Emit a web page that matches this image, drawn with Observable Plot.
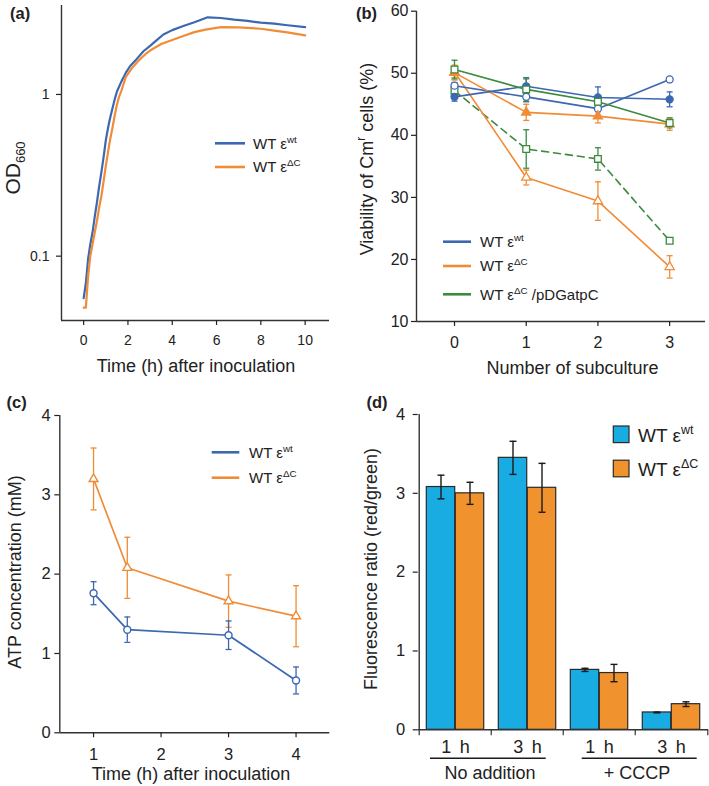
<!DOCTYPE html>
<html><head><meta charset="utf-8">
<script src="https://cdn.jsdelivr.net/npm/d3@7"></script>
<script src="https://cdn.jsdelivr.net/npm/@observablehq/plot@0.6"></script>
<style>
html,body{margin:0;padding:0;background:#fff;}
#fig{position:relative;width:709px;height:786px;overflow:hidden;background:#fff;}
#fig > svg{position:absolute;}
</style></head><body><div id="fig"></div>
<script>
// ---------- DATA ----------
// (a) growth curves, OD660 vs time (h)
const growthTimeWT = [0,0.1,0.2,0.3,0.4,0.5,0.6,0.7,0.8,0.9,1.0,1.1,1.2,1.3,1.4,1.5,1.7,1.9,2.1,2.4,2.7,3.0,3.3,3.6,4.0,4.5,5.0,5.6,6.2,6.8,7.4,8.0,8.6,9.2,10.0];
const growthODWT   = [0.055,0.068,0.096,0.118,0.14,0.175,0.215,0.27,0.33,0.41,0.52,0.62,0.72,0.82,0.93,1.04,1.2,1.36,1.5,1.66,1.85,2.0,2.17,2.35,2.5,2.65,2.8,3.0,2.97,2.9,2.85,2.78,2.74,2.68,2.61];
const growthTimeDC = [0,0.1,0.2,0.3,0.4,0.5,0.6,0.7,0.8,0.9,1.0,1.1,1.2,1.3,1.4,1.5,1.6,1.7,1.9,2.2,2.5,2.8,3.0,3.5,4.0,4.5,5.0,5.5,6.2,7.0,8.0,8.6,9.2,10.0];
const growthODDC   = [0.048,0.048,0.075,0.1,0.118,0.14,0.165,0.2,0.235,0.29,0.36,0.44,0.53,0.62,0.74,0.86,0.97,1.05,1.28,1.47,1.63,1.78,1.87,2.05,2.17,2.3,2.43,2.52,2.61,2.6,2.55,2.48,2.42,2.32];
const growthXTicks = [0,2,4,6,8,10];
const growthYTicks = [0.1,1];

// (b) viability of Cm^r cells (%) vs number of subculture
const subculture = [0,1,2,3];
const viabWTFilled   = [46.2,47.9,46.1,45.8];  const viabWTFilledErr   = [0.7,1.2,1.7,1.2];
const viabWTOpen     = [48.0,46.2,44.3,49.0];  const viabWTOpenErr     = [0.5,0.8,0.5,0];
const viabDCFilled   = [50.1,43.7,43.1,41.8];  const viabDCFilledErr   = [1.2,1.3,1.1,1.0];
const viabDCOpen     = [50.2,33.2,29.4,18.8];  const viabDCOpenErr     = [0.9,1.2,3.1,1.8];
const viabCompSolid  = [50.6,47.4,45.4,42.0];  const viabCompSolidErr  = [1.5,1.9,0.8,0.8];
const viabCompDashed = [47.2,37.8,36.2,23.0];  const viabCompDashedErr = [0.5,3.1,1.8,0.4];
const viabXTicks = [0,1,2,3];
const viabYTicks = [10,20,30,40,50,60];

// (c) ATP concentration (mM) vs time (h)
const atpTime  = [1,1.5,3,4];
const atpWT    = [1.76,1.30,1.23,0.66];  const atpWTErr = [0.145,0.16,0.18,0.17];
const atpDC    = [3.20,2.08,1.66,1.47];  const atpDCErr = [0.39,0.385,0.33,0.385];
const atpXTicks = [1,2,3,4];
const atpYTicks = [0,1,2,3,4];

// (d) fluorescence ratio (red/green)
const fluorTime      = ["1 h","3 h","1 h","3 h"];
const fluorCondition = ["No addition","No addition","+ CCCP","+ CCCP"];
const fluorWT    = [3.08,3.45,0.76,0.22];  const fluorWTErr = [0.15,0.21,0.02,0.005];
const fluorDC    = [3.00,3.07,0.72,0.325]; const fluorDCErr = [0.14,0.31,0.11,0.03];
const fluorYTicks = [0,1,2,3,4];

// ---------- STYLE ----------
const FONT = "'Liberation Sans', Arial, Helvetica, sans-serif";
const C = {blue:"#3c68b1", orange:"#f08c37", green:"#3b8a3e", barBlue:"#19ace3", barOrange:"#f0932f", ink:"#222", axis:"#333"};
const baseStyle = {fontFamily: FONT, color: C.ink, background: "transparent", overflow: "visible"};
const capSymbol = {draw(ctx, size) { const w = Math.sqrt(size / Math.PI); ctx.moveTo(-w, 0); ctx.lineTo(w, 0); }};
const plain = d => String(d);
const fig = document.getElementById("fig");
function place(svg, left, top) { svg.style.position = "absolute"; svg.style.left = left + "px"; svg.style.top = top + "px"; fig.appendChild(svg); }

// ---------- (a) ----------
{
  const rows = [
    ...growthTimeWT.map((t, i) => ({t, od: growthODWT[i], s: "wt"})),
    ...growthTimeDC.map((t, i) => ({t, od: growthODDC[i], s: "dc"}))
  ];
  const xDom = [-1, 11.1], yDom = [0.04, 3.55];
  const p = Plot.plot({
    width: 350, height: 390, marginLeft: 61, marginTop: 5, marginRight: 21, marginBottom: 70,
    style: baseStyle,
    x: {domain: xDom}, y: {type: "log", domain: yDom},
    color: {domain: ["wt","dc"], range: [C.blue, C.orange]},
    marks: [
      Plot.ruleX([xDom[0]], {stroke: C.axis, strokeWidth: 1.4}),
      Plot.ruleY([yDom[0]], {stroke: C.axis, strokeWidth: 1.4}),
      Plot.axisX({ticks: growthXTicks, tickSize: 5, tickPadding: 10, fontSize: 14, label: null, strokeWidth: 1.2, tickFormat: plain}),
      Plot.axisY({ticks: growthYTicks, tickSize: 5, tickPadding: 7, fontSize: 14, label: null, strokeWidth: 1.2, tickFormat: plain}),
      Plot.line(rows, {x: "t", y: "od", z: "s", stroke: "s", strokeWidth: 2.2})
    ]
  });
  place(p, 0, 0);
}

// ---------- (b) ----------
{
  const series = [
    {v: viabCompDashed, e: viabCompDashedErr, color: C.green, symbol: "square", fill: "white", dash: "7,5"},
    {v: viabDCOpen, e: viabDCOpenErr, color: C.orange, symbol: "triangle", fill: "white"},
    {v: viabWTOpen, e: viabWTOpenErr, color: C.blue, symbol: "circle", fill: "white"},
    {v: viabDCFilled, e: viabDCFilledErr, color: C.orange, symbol: "triangle", fill: C.orange},
    {v: viabWTFilled, e: viabWTFilledErr, color: C.blue, symbol: "circle", fill: C.blue},
    {v: viabCompSolid, e: viabCompSolidErr, color: C.green, symbol: "square", fill: "white"}
  ];
  const xDom = [-0.53, 3.5], yDom = [10, 60];
  const marks = [
    Plot.ruleX([xDom[0]], {stroke: C.axis, strokeWidth: 1.4}),
    Plot.ruleY([yDom[0]], {stroke: C.axis, strokeWidth: 1.4}),
    Plot.axisX({ticks: viabXTicks, tickSize: 5, tickPadding: 10, fontSize: 16, label: null, strokeWidth: 1.2, tickFormat: plain}),
    Plot.axisY({ticks: viabYTicks, tickSize: 5, tickPadding: 3, fontSize: 16, label: null, strokeWidth: 1.2, tickFormat: plain})
  ];
  for (const s of series) {
    const rows = subculture.map((x, i) => ({x, v: s.v[i], e: s.e[i]}));
    marks.push(Plot.line(rows, {x: "x", y: "v", stroke: s.color, strokeWidth: 1.6, strokeDasharray: s.dash}));
    marks.push(Plot.ruleX(rows.filter(d => d.e > 0), {x: "x", y1: d => d.v - d.e, y2: d => d.v + d.e, stroke: s.color, strokeWidth: 1.3}));
    marks.push(Plot.dot(rows.filter(d => d.e > 0), {x: "x", y: d => d.v + d.e, symbol: capSymbol, r: 3, stroke: s.color, fill: "none", strokeWidth: 1.3}));
    marks.push(Plot.dot(rows.filter(d => d.e > 0), {x: "x", y: d => d.v - d.e, symbol: capSymbol, r: 3, stroke: s.color, fill: "none", strokeWidth: 1.3}));
  }
  for (const s of series) {
    const rows = subculture.map((x, i) => ({x, v: s.v[i]}));
    marks.push(Plot.dot(rows, {x: "x", y: "v", symbol: s.symbol, r: s.symbol === "triangle" ? 3.4 : s.symbol === "square" ? 3.8 : 3.5, stroke: s.color, fill: s.fill, strokeWidth: 1.3}));
  }
  const p = Plot.plot({
    width: 354, height: 390, marginLeft: 61, marginTop: 10.7, marginRight: 4, marginBottom: 69,
    style: baseStyle, x: {domain: xDom}, y: {domain: yDom}, marks
  });
  place(p, 355, 0);
}

// ---------- (c) ----------
{
  const series = [
    {v: atpDC, e: atpDCErr, color: C.orange, symbol: "triangle"},
    {v: atpWT, e: atpWTErr, color: C.blue, symbol: "circle"}
  ];
  const xDom = [0.5, 4.5], yDom = [0, 4];
  const marks = [
    Plot.ruleX([xDom[0]], {stroke: C.axis, strokeWidth: 1.4}),
    Plot.ruleY([yDom[0]], {stroke: C.axis, strokeWidth: 1.4}),
    Plot.axisX({ticks: atpXTicks, tickSize: 5, tickPadding: 10, fontSize: 16.5, label: null, strokeWidth: 1.2, tickFormat: plain}),
    Plot.axisY({ticks: atpYTicks, tickSize: 5, tickPadding: 4, fontSize: 16.5, label: null, strokeWidth: 1.2, tickFormat: plain})
  ];
  for (const s of series) {
    const rows = atpTime.map((x, i) => ({x, v: s.v[i], e: s.e[i]}));
    marks.push(Plot.ruleX(rows, {x: "x", y1: d => d.v - d.e, y2: d => d.v + d.e, stroke: s.color, strokeWidth: 1.3}));
    marks.push(Plot.dot(rows, {x: "x", y: d => d.v + d.e, symbol: capSymbol, r: 3, stroke: s.color, fill: "none", strokeWidth: 1.3}));
    marks.push(Plot.dot(rows, {x: "x", y: d => d.v - d.e, symbol: capSymbol, r: 3, stroke: s.color, fill: "none", strokeWidth: 1.3}));
    marks.push(Plot.line(rows, {x: "x", y: "v", stroke: s.color, strokeWidth: 1.7}));
    marks.push(Plot.dot(rows, {x: "x", y: "v", symbol: s.symbol, r: s.symbol === "triangle" ? 3.3 : 3.5, stroke: s.color, fill: "white", strokeWidth: 1.4}));
  }
  const p = Plot.plot({
    width: 350, height: 396, marginLeft: 59.3, marginTop: 25, marginRight: 20.7, marginBottom: 53.7,
    style: baseStyle, x: {domain: xDom}, y: {domain: yDom}, marks
  });
  place(p, 0, 390);
}

// ---------- (d) ----------
{
  const keys = fluorTime.map((t, i) => t + "|" + fluorCondition[i]);
  const W = 354, H = 396, mL = 62.7, mR = 1, mT = 24, mB = 56.7;
  const bw = (W - mL - mR) / keys.length;
  const barW = 29, outer = (bw - 2 * barW) / 2;
  const plotH = H - mT - mB;
  const wtRows = keys.map((k, i) => ({k, v: fluorWT[i], e: fluorWTErr[i]}));
  const dcRows = keys.map((k, i) => ({k, v: fluorDC[i], e: fluorDCErr[i]}));
  const errMarks = (rows, dx) => [
    Plot.ruleX(rows, {x: "k", y1: d => d.v - d.e, y2: d => d.v + d.e, dx, stroke: "#1a1a1a", strokeWidth: 1.4}),
    Plot.dot(rows, {x: "k", y: d => d.v + d.e, dx, symbol: capSymbol, r: 3.5, stroke: "#1a1a1a", fill: "none", strokeWidth: 1.4}),
    Plot.dot(rows, {x: "k", y: d => d.v - d.e, dx, symbol: capSymbol, r: 3.5, stroke: "#1a1a1a", fill: "none", strokeWidth: 1.4})
  ];
  const p = Plot.plot({
    width: W, height: H, marginLeft: mL, marginTop: mT, marginRight: mR, marginBottom: mB,
    style: baseStyle,
    x: {type: "band", domain: keys, padding: 0},
    y: {domain: [0, 4]},
    marks: [
      Plot.barY(wtRows, {x: "k", y: "v", fill: C.barBlue, stroke: "#2a2a2a", strokeWidth: 1.2, insetLeft: outer, insetRight: outer + barW}),
      Plot.barY(dcRows, {x: "k", y: "v", fill: C.barOrange, stroke: "#2a2a2a", strokeWidth: 1.2, insetLeft: outer + barW, insetRight: outer}),
      ...errMarks(wtRows, -barW / 2),
      ...errMarks(dcRows, barW / 2),
      Plot.ruleX([keys[0]], {dx: -bw / 2, stroke: C.axis, strokeWidth: 1.4}),
      Plot.ruleY([0], {stroke: C.axis, strokeWidth: 1.4}),
      Plot.ruleX(keys, {dx: -bw / 2, insetTop: plotH, insetBottom: -6, stroke: C.axis, strokeWidth: 1.2}),
      Plot.ruleX([keys[keys.length - 1]], {dx: bw / 2, insetTop: plotH, insetBottom: -6, stroke: C.axis, strokeWidth: 1.2}),
      Plot.axisX({tickSize: 0, tickPadding: 10, fontSize: 18, label: null, tickFormat: k => k.split("|")[0].replace(" ", "\u00a0\u2009")}),
      Plot.axisY({ticks: fluorYTicks, tickSize: 5, tickPadding: 8, fontSize: 16.5, label: null, strokeWidth: 1.2, tickFormat: plain})
    ]
  });
  place(p, 355, 390);
}

// ---------- TEXT / LEGENDS OVERLAY ----------
const ov = d3.select("#fig").append("svg")
  .attr("width", 709).attr("height", 786)
  .style("position", "absolute").style("left", "0px").style("top", "0px")
  .attr("font-family", FONT).attr("fill", C.ink).style("white-space", "pre");

function rich(x, y, parts, o) {
  const t = ov.append("text").attr("font-size", o.size)
    .attr("text-anchor", o.anchor || "start")
    .attr("font-weight", o.weight || null)
    .attr("transform", `translate(${x},${y})` + (o.rotate ? " rotate(-90)" : ""));
  let shift = 0;
  for (const p of parts) {
    const [s, kind] = typeof p === "string" ? [p, ""] : p;
    const target = kind === "sup" ? -0.4 * o.size : kind === "sub" ? 0.25 * o.size : 0;
    const ts = t.append("tspan").text(s).attr("dy", target - shift);
    if (kind) ts.attr("font-size", o.size * (o.small || 0.66));
    shift = target;
  }
  return t;
}
const epsWT = ["WT \u03b5", ["wt", "sup"]];
const epsDC = ["WT \u03b5", ["\u0394C", "sup"]];
const epsComp = ["WT \u03b5", ["\u0394C", "sup"], " /pDGatpC"];

function lineLegend(x1, x2, tx, items, size) {
  for (const it of items) {
    ov.append("line").attr("x1", x1).attr("x2", x2).attr("y1", it.y).attr("y2", it.y)
      .attr("stroke", it.color).attr("stroke-width", 2.6);
    rich(tx, it.y + 5.3, it.parts, {size});
  }
}

// panel labels
rich(10, 18.5, ["(a)"], {size: 16.5, weight: "bold"});
rich(356, 18.5, ["(b)"], {size: 16.5, weight: "bold"});
rich(6.5, 408, ["(c)"], {size: 16.5, weight: "bold"});
rich(366.5, 408, ["(d)"], {size: 16.5, weight: "bold"});

// axis titles
rich(196, 371.5, ["Time (h) after inoculation"], {size: 18, anchor: "middle"});
rich(19.5, 168, ["OD", ["660", "sub"]], {size: 21, anchor: "middle", rotate: true, small: 0.62});
rich(572.5, 374, ["Number of subculture"], {size: 18, anchor: "middle"});
rich(372.5, 159, ["Viability of Cm", ["r", "sup"], " cells (%)"], {size: 18, anchor: "middle", rotate: true});
rich(191, 780, ["Time (h) after inoculation"], {size: 18, anchor: "middle"});
rich(21, 572, ["ATP concentration (mM)"], {size: 18, anchor: "middle", rotate: true});
rich(377, 569, ["Fluorescence ratio (red/green)"], {size: 18, anchor: "middle", rotate: true});

// (d) group labels with underlines
const groupSpans = [[430, 545.7, 490, "No addition"], [581.7, 696.7, 637, "+ CCCP"]];
for (const [a, b, cx, lab] of groupSpans) {
  ov.append("line").attr("x1", a).attr("x2", b).attr("y1", 758.3).attr("y2", 758.3).attr("stroke", "#1a1a1a").attr("stroke-width", 1.6);
  rich(cx, 779, [lab], {size: 18, anchor: "middle"});
}

// legends
lineLegend(215, 245, 253, [{y: 143.3, color: C.blue, parts: epsWT}, {y: 167, color: C.orange, parts: epsDC}], 15);
lineLegend(443, 471, 480, [{y: 241.7, color: C.blue, parts: epsWT}, {y: 266, color: C.orange, parts: epsDC}, {y: 294.3, color: C.green, parts: epsComp}], 15);
lineLegend(211.7, 239.3, 249, [{y: 452.3, color: C.blue, parts: epsWT}, {y: 477.7, color: C.orange, parts: epsDC}], 15);
for (const it of [{y: 434.3, fill: C.barBlue, parts: epsWT}, {y: 468.5, fill: C.barOrange, parts: epsDC}]) {
  ov.append("rect").attr("x", 613.3).attr("y", it.y - 8.3).attr("width", 15.7).attr("height", 16.6)
    .attr("fill", it.fill).attr("stroke", "#2a2a2a").attr("stroke-width", 1.2);
  rich(638, it.y + 7.5, it.parts, {size: 19});
}
</script></body></html>
